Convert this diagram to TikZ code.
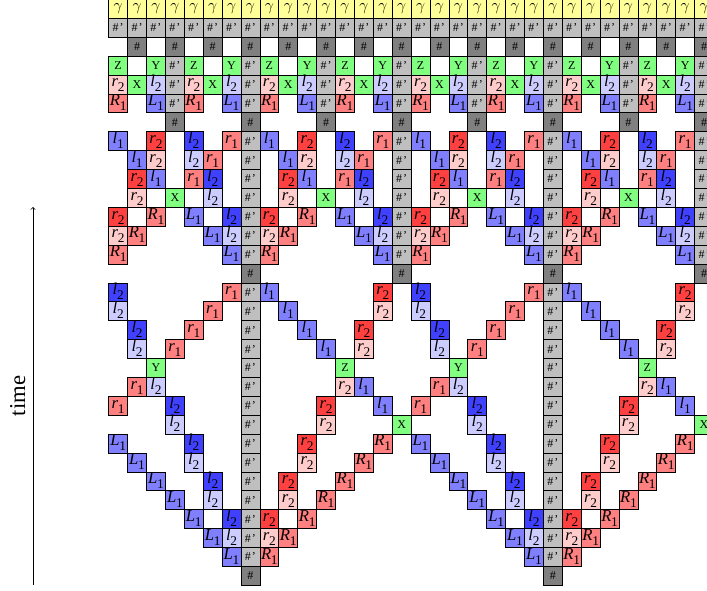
\documentclass[tikz,border=0pt]{standalone}
\usepackage{fontspec}
\setmainfont{Liberation Serif}
\definecolor{cyel}{HTML}{FFFF99}
\definecolor{cgra}{HTML}{BFBFBF}
\definecolor{cdrk}{HTML}{808080}
\definecolor{cgrn}{HTML}{80FF80}
\newcommand{\fsz}[1]{\fontsize{#1}{#1}\selectfont}
\newcommand{\mv}[2]{\raisebox{-1.7pt}[0pt][0pt]{\fsz{12.5}\textit{#1}\kern-0.2pt\raisebox{-3.8pt}{\fsz{10}#2}}}
\newcommand{\gm}{\raisebox{-1.4pt}[0pt][0pt]{\large$\gamma$}}
\tikzset{
  cell/.style={draw=black,line width=0.55pt,minimum size=14.175pt,inner sep=0pt,outer sep=0pt,anchor=center},
  gam/.style={cell,fill=cyel},
  hp/.style={cell,fill=cgra,font=\fsz{9}},
  hh/.style={cell,fill=cdrk,font=\fsz{9}},
  grn/.style={cell,fill=cgrn,font=\fsz{9}},
  ld/.style={cell,fill=blue!75},
  lm/.style={cell,fill=blue!50},
  ll/.style={cell,fill=blue!20},
  rd/.style={cell,fill=red!75},
  rm/.style={cell,fill=red!50},
  rl/.style={cell,fill=red!20},
}
\newcommand{\putcell}[4]{% style, col, row, text
  \pgfmathsetmacro{\px}{108.7+(#2+0.5)*18.9}
  \pgfmathsetmacro{\py}{585.3-(30.5-#3)*18.9}
  \pgfmathtruncatemacro{\ci}{#2}
  \node[#1] (c\ci-#3) at (\px,\py) {#4};
}
\begin{document}
\begin{tikzpicture}[x=0.75pt,y=-0.75pt]
\useasboundingbox (0,0) rectangle (707,590);
\clip (0,0) rectangle (707,590);
% rows 0-2
\foreach \c in {0,...,31} {
  \putcell{gam}{\c}{0}{\gm}
  \putcell{hp}{\c}{1}{\#\kern0.8pt'}
}
\foreach \c in {1,3,...,31} { \putcell{hh}{\c}{2}{\#} }
% rows 3-6, period 4
\foreach \o in {0,4,...,28} {
  \putcell{grn}{\o+0}{3}{Z}
  \putcell{grn}{\o+2}{3}{Y}
  \putcell{hp}{\o+3}{3}{\#\kern0.8pt'}
  \putcell{rl}{\o+0}{4}{\mv{r}{2}}
  \putcell{grn}{\o+1}{4}{X}
  \putcell{ll}{\o+2}{4}{\mv{l}{2}}
  \putcell{hp}{\o+3}{4}{\#\kern0.8pt'}
  \putcell{rm}{\o+0}{5}{\mv{R}{1}}
  \putcell{lm}{\o+2}{5}{\mv{L}{1}}
  \putcell{hp}{\o+3}{5}{\#\kern0.8pt'}
  \putcell{hh}{\o+3}{6}{\#}
}
% rows 7-14, period 8
\foreach \o in {0,8,16,24} {
  \putcell{lm}{\o+0}{7}{\mv{l}{1}}
  \putcell{rd}{\o+2}{7}{\mv{r}{2}}
  \putcell{ld}{\o+4}{7}{\mv{l}{2}}
  \putcell{rm}{\o+6}{7}{\mv{r}{1}}
  \putcell{lm}{\o+1}{8}{\mv{l}{1}}
  \putcell{rl}{\o+2}{8}{\mv{r}{2}}
  \putcell{ll}{\o+4}{8}{\mv{l}{2}}
  \putcell{rm}{\o+5}{8}{\mv{r}{1}}
  \putcell{rd}{\o+1}{9}{\mv{r}{2}}
  \putcell{lm}{\o+2}{9}{\mv{l}{1}}
  \putcell{rm}{\o+4}{9}{\mv{r}{1}}
  \putcell{ld}{\o+5}{9}{\mv{l}{2}}
  \putcell{rl}{\o+1}{10}{\mv{r}{2}}
  \putcell{grn}{\o+3}{10}{X}
  \putcell{ll}{\o+5}{10}{\mv{l}{2}}
  \putcell{rd}{\o+0}{11}{\mv{r}{2}}
  \putcell{rm}{\o+2}{11}{\mv{R}{1}}
  \putcell{lm}{\o+4}{11}{\mv{L}{1}}
  \putcell{ld}{\o+6}{11}{\mv{l}{2}}
  \putcell{rl}{\o+0}{12}{\mv{r}{2}}
  \putcell{rm}{\o+1}{12}{\mv{R}{1}}
  \putcell{lm}{\o+5}{12}{\mv{L}{1}}
  \putcell{ll}{\o+6}{12}{\mv{l}{2}}
  \putcell{rm}{\o+0}{13}{\mv{R}{1}}
  \putcell{lm}{\o+6}{13}{\mv{L}{1}}
  \foreach \r in {7,...,13} { \putcell{hp}{\o+7}{\r}{\#\kern0.8pt'} }
  \putcell{hh}{\o+7}{14}{\#}
}
% rows 15-30, period 16
\foreach \o in {0,16} {
  \foreach \r in {15,...,29} { \putcell{hp}{\o+7}{\r}{\#\kern0.8pt'} }
  \putcell{hh}{\o+7}{30}{\#}
  \putcell{ld}{\o+0}{15}{\mv{l}{2}}
  \putcell{rm}{\o+6}{15}{\mv{r}{1}}
  \putcell{lm}{\o+8}{15}{\mv{l}{1}}
  \putcell{rd}{\o+14}{15}{\mv{r}{2}}
  \putcell{ll}{\o+0}{16}{\mv{l}{2}}
  \putcell{rm}{\o+5}{16}{\mv{r}{1}}
  \putcell{lm}{\o+9}{16}{\mv{l}{1}}
  \putcell{rl}{\o+14}{16}{\mv{r}{2}}
  \putcell{ld}{\o+1}{17}{\mv{l}{2}}
  \putcell{rm}{\o+4}{17}{\mv{r}{1}}
  \putcell{lm}{\o+10}{17}{\mv{l}{1}}
  \putcell{rd}{\o+13}{17}{\mv{r}{2}}
  \putcell{ll}{\o+1}{18}{\mv{l}{2}}
  \putcell{rm}{\o+3}{18}{\mv{r}{1}}
  \putcell{lm}{\o+11}{18}{\mv{l}{1}}
  \putcell{rl}{\o+13}{18}{\mv{r}{2}}
  \putcell{grn}{\o+2}{19}{Y}
  \putcell{grn}{\o+12}{19}{Z}
  \putcell{rm}{\o+1}{20}{\mv{r}{1}}
  \putcell{ll}{\o+2}{20}{\mv{l}{2}}
  \putcell{rl}{\o+12}{20}{\mv{r}{2}}
  \putcell{lm}{\o+13}{20}{\mv{l}{1}}
  \putcell{rm}{\o+0}{21}{\mv{r}{1}}
  \putcell{ld}{\o+3}{21}{\mv{l}{2}}
  \putcell{rd}{\o+11}{21}{\mv{r}{2}}
  \putcell{lm}{\o+14}{21}{\mv{l}{1}}
  \putcell{ll}{\o+3}{22}{\mv{l}{2}}
  \putcell{rl}{\o+11}{22}{\mv{r}{2}}
  \putcell{grn}{\o+15}{22}{X}
  \putcell{lm}{\o+0}{23}{\mv{L}{1}}
  \putcell{ld}{\o+4}{23}{\mv{l}{2}}
  \putcell{rd}{\o+10}{23}{\mv{r}{2}}
  \putcell{rm}{\o+14}{23}{\mv{R}{1}}
  \putcell{lm}{\o+1}{24}{\mv{L}{1}}
  \putcell{ll}{\o+4}{24}{\mv{l}{2}}
  \putcell{rl}{\o+10}{24}{\mv{r}{2}}
  \putcell{rm}{\o+13}{24}{\mv{R}{1}}
  \putcell{lm}{\o+2}{25}{\mv{L}{1}}
  \putcell{ld}{\o+5}{25}{\mv{l}{2}}
  \putcell{rd}{\o+9}{25}{\mv{r}{2}}
  \putcell{rm}{\o+12}{25}{\mv{R}{1}}
  \putcell{lm}{\o+3}{26}{\mv{L}{1}}
  \putcell{ll}{\o+5}{26}{\mv{l}{2}}
  \putcell{rl}{\o+9}{26}{\mv{r}{2}}
  \putcell{rm}{\o+11}{26}{\mv{R}{1}}
  \putcell{lm}{\o+4}{27}{\mv{L}{1}}
  \putcell{ld}{\o+6}{27}{\mv{l}{2}}
  \putcell{rd}{\o+8}{27}{\mv{r}{2}}
  \putcell{rm}{\o+10}{27}{\mv{R}{1}}
  \putcell{lm}{\o+5}{28}{\mv{L}{1}}
  \putcell{ll}{\o+6}{28}{\mv{l}{2}}
  \putcell{rl}{\o+8}{28}{\mv{r}{2}}
  \putcell{rm}{\o+9}{28}{\mv{R}{1}}
  \putcell{lm}{\o+6}{29}{\mv{L}{1}}
  \putcell{rm}{\o+8}{29}{\mv{R}{1}}
}
\coordinate (tstart) at (33,585);
\coordinate (tend) at (33,207);
\draw[->,line width=0.5pt] (tstart) -- (tend);
\node[rotate=90,inner sep=0pt,anchor=base,font=\fsz{17}] (timelabel) at (25,396) {time};
\end{tikzpicture}
\end{document}
